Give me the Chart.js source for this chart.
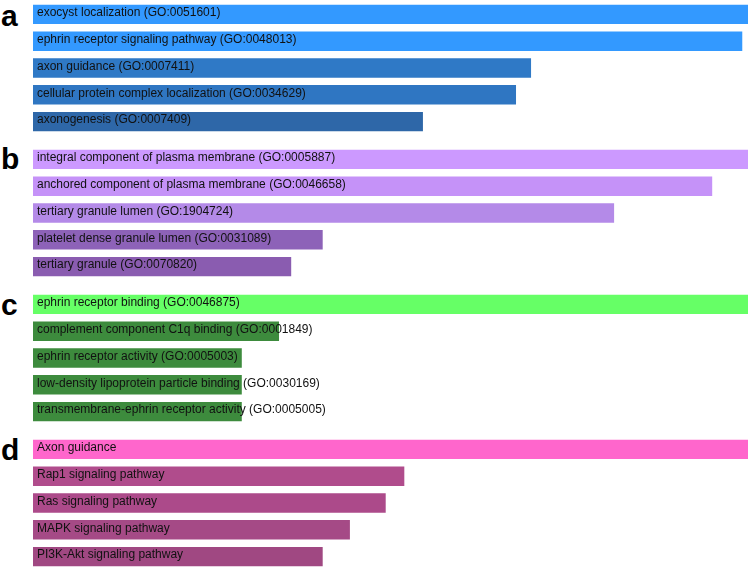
<!DOCTYPE html>
<html>
<head>
<meta charset="utf-8">
<script src="https://cdn.jsdelivr.net/npm/chart.js@4"></script>
<style>
  html, body { margin: 0; padding: 0; background: #ffffff; }
  body { width: 749px; height: 570px; position: relative; overflow: hidden; font-family: "Liberation Sans", Arial, sans-serif; }
  .panel { position: absolute; left: 33px; width: 716px; height: 134px; }
  .letter { position: absolute; left: 1px; font: bold 30px "Liberation Sans", Arial, sans-serif; color: #000; line-height: 1; }
</style>
</head>
<body>
<div class="letter" style="top:1px">a</div>
<div class="letter" style="top:144px">b</div>
<div class="letter" style="top:290px">c</div>
<div class="letter" style="top:435px">d</div>
<div class="panel" style="top:1px"><canvas id="cA" width="716" height="134"></canvas></div>
<div class="panel" style="top:146px"><canvas id="cB" width="716" height="134"></canvas></div>
<div class="panel" style="top:291px"><canvas id="cC" width="716" height="134"></canvas></div>
<div class="panel" style="top:436px"><canvas id="cD" width="716" height="134"></canvas></div>
<script>
// ---- data ----
const termsA = [
  "exocyst localization (GO:0051601)",
  "ephrin receptor signaling pathway (GO:0048013)",
  "axon guidance (GO:0007411)",
  "cellular protein complex localization (GO:0034629)",
  "axonogenesis (GO:0007409)"
];
const scoresA = [100, 99.2, 69.7, 67.6, 54.6];

const termsB = [
  "integral component of plasma membrane (GO:0005887)",
  "anchored component of plasma membrane (GO:0046658)",
  "tertiary granule lumen (GO:1904724)",
  "platelet dense granule lumen (GO:0031089)",
  "tertiary granule (GO:0070820)"
];
const scoresB = [100, 95.0, 81.3, 40.6, 36.2];

const termsC = [
  "ephrin receptor binding (GO:0046875)",
  "complement component C1q binding (GO:0001849)",
  "ephrin receptor activity (GO:0005003)",
  "low-density lipoprotein particle binding (GO:0030169)",
  "transmembrane-ephrin receptor activity (GO:0005005)"
];
const scoresC = [100, 34.5, 29.3, 29.3, 29.3];

const termsD = [
  "Axon guidance",
  "Rap1 signaling pathway",
  "Ras signaling pathway",
  "MAPK signaling pathway",
  "PI3K-Akt signaling pathway"
];
const scoresD = [100, 52.0, 49.4, 44.4, 40.6];

// ---- styles ----
const colorsA = ["#3399ff", "#3399ff", "#2f79c6", "#2f76c2", "#2e67a8"];
const colorsB = ["#cc99ff", "#c592f8", "#b48ae8", "#8d62b8", "#8a5cb0"];
const colorsC = ["#66ff66", "#3d8b3d", "#3d8b3d", "#3d8b3d", "#3d8b3d"];
const colorsD = ["#ff66cc", "#b04c8c", "#ac4a8a", "#a54a86", "#a04882"];

const inBarLabels = {
  id: 'inBarLabels',
  afterDatasetsDraw(chart) {
    const ctx = chart.ctx;
    const meta = chart.getDatasetMeta(0);
    ctx.save();
    ctx.font = '12px "Liberation Sans", Arial, sans-serif';
    ctx.fillStyle = '#111111';
    ctx.textAlign = 'left';
    ctx.textBaseline = 'alphabetic';
    meta.data.forEach((bar, i) => {
      const top = bar.y - bar.height / 2;
      ctx.fillText(chart.data.labels[i], bar.base + 4, top + 12.5);
    });
    ctx.restore();
  }
};

function makeChart(id, labels, values, colors) {
  new Chart(document.getElementById(id), {
    type: 'bar',
    data: {
      labels: labels,
      datasets: [{
        data: values,
        backgroundColor: colors,
        borderColor: 'rgba(255,255,255,0.3)',
        borderWidth: 1,
        categoryPercentage: 1.0,
        barPercentage: 0.8
      }]
    },
    options: {
      indexAxis: 'y',
      responsive: false,
      animation: false,
      layout: { padding: 0 },
      plugins: { legend: { display: false }, tooltip: { enabled: false } },
      scales: {
        x: { display: false, min: 0, max: 100 },
        y: { display: false }
      }
    },
    plugins: [inBarLabels]
  });
}

makeChart('cA', termsA, scoresA, colorsA);
makeChart('cB', termsB, scoresB, colorsB);
makeChart('cC', termsC, scoresC, colorsC);
makeChart('cD', termsD, scoresD, colorsD);
</script>
</body>
</html>
